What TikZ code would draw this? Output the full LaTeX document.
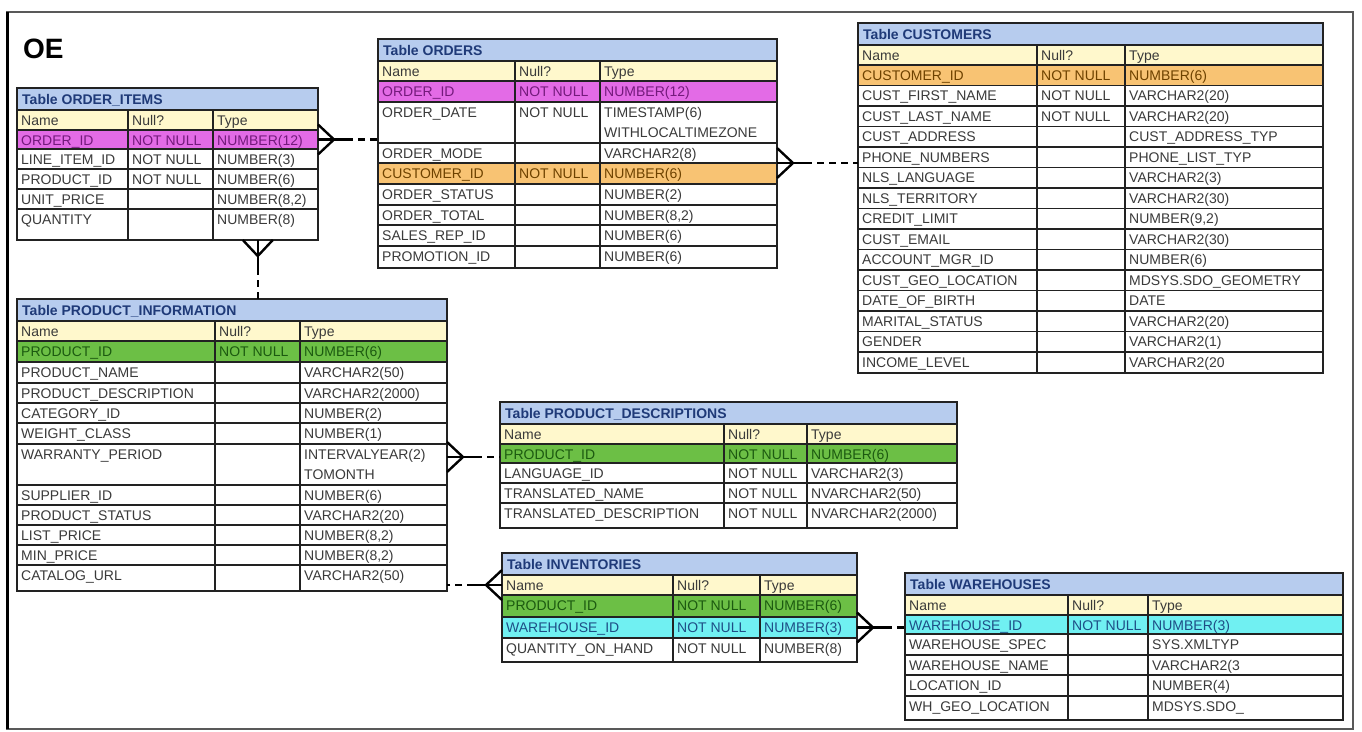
\documentclass[tikz,border=0pt]{standalone}
\usepackage{fontspec}
\setmainfont{Liberation Sans}
\usepackage{tikz}
\usetikzlibrary{calc}
\definecolor{headfill}{HTML}{B7CCEE}
\definecolor{headink}{HTML}{1F3A78}
\definecolor{namefill}{HTML}{FFF8CC}
\definecolor{cellink}{HTML}{3A3A3A}
\definecolor{magfill}{HTML}{E36BE6}
\definecolor{magink}{HTML}{741A7C}
\definecolor{orgfill}{HTML}{F8C373}
\definecolor{orgink}{HTML}{6E4200}
\definecolor{grnfill}{HTML}{6CBF45}
\definecolor{grnink}{HTML}{1C5A10}
\definecolor{cyanfill}{HTML}{70F0F2}
\definecolor{cyanink}{HTML}{1E4E86}
\definecolor{ruleink}{HTML}{222222}
\newcommand{\cellfont}{\fontsize{14}{20}\selectfont}
\newcommand{\headfont}{\fontsize{14}{20}\selectfont\bfseries}
% column edges of the table being drawn
\newcommand{\dbcols}[4]{\def\cola{#1}\def\colb{#2}\def\colc{#3}\def\cold{#4}}
\newcommand{\dbrow}[7]{%
  \node[rowbox, #4, minimum width={(\cold-\cola)*1pt},
        minimum height={(#3-#2)*1pt}] (#1) at ({(\cola+\cold)/2},{(#2+#3)/2}) {};
  \draw[rowrule] (#1.north west) -- (#1.north east);
  \node[cell, #4] at ({\cola+4},{#2+15}) {#5};
  \node[cell, #4] at ({\colb+4},{#2+15}) {#6};
  \node[cell, #4] at ({\colc+4},{#2+15}) {#7};
}
\newcommand{\dbmore}[2]{%
  \node[cell] at ({\colc+4},{#1+15}) {#2};
}
\newcommand{\dbtable}[4]{%
  \node[headbox, minimum width={(\cold-\cola)*1pt}, minimum height=22pt]
    (#1-head) at ({(\cola+\cold)/2},{#2+11}) {};
  \node[headtext] at ({\cola+5},{#2+16}) {Table #4};
  \node[namebox, minimum width={(\cold-\cola)*1pt}, minimum height=20pt]
    (#1-cols) at ({(\cola+\cold)/2},{#2+32}) {};
  \node[cell] at ({\cola+4},{#2+37}) {Name};
  \node[cell] at ({\colb+4},{#2+37}) {Null?};
  \node[cell] at ({\colc+4},{#2+37}) {Type};
  \draw[rowrule] (#1-cols.north west) -- (#1-cols.north east);
  \draw[rowrule] (#1-cols.south west) -- (#1-cols.south east);
  \draw[colrule] ({\colb},{#2+22}) -- ({\colb},{#3});
  \draw[colrule] ({\colc},{#2+22}) -- ({\colc},{#3});
  \node[tablebox, minimum width={(\cold-\cola)*1pt},
        minimum height={(#3-#2)*1pt}] (#1) at ({(\cola+\cold)/2},{(#2+#3)/2}) {};
}
% crow's foot at #1, dashed on to #2
\newcommand{\crowlink}[2]{%
  \draw[crowline] ($(#1)!15pt!90:(#2)$) -- ($(#1)!16pt!(#2)$) -- ($(#1)!15pt!-90:(#2)$);
  \draw[crowline] (#1) -- ($(#1)!28pt!(#2)$);
  \draw[crowline, linkdash] ($(#1)!28pt!(#2)$) -- (#2);
}

\begin{document}
\begin{tikzpicture}[x=1pt, y=-1pt,
    rowbox/.style={inner sep=0pt, outer sep=0pt, draw=none},
    headbox/.style={rowbox, fill=headfill},
    namebox/.style={rowbox, fill=namefill},
    tablebox/.style={draw=ruleink, line width=2.4pt, inner sep=0pt, outer sep=0pt},
    rowrule/.style={draw=ruleink, line width=1.3pt},
    colrule/.style={draw=ruleink, line width=2.4pt},
    cell/.style={anchor=base west, inner sep=0pt, font=\cellfont, text=cellink},
    headtext/.style={anchor=base west, inner sep=0pt, font=\headfont, text=headink},
    hlnone/.style={},
    hlmag/.style={fill=magfill, text=magink},
    hlorg/.style={fill=orgfill, text=orgink},
    hlgrn/.style={fill=grnfill, text=grnink},
    hlcyan/.style={fill=cyanfill, text=cyanink},
    crowline/.style={draw=black, line width=2.4pt},
    linkdash/.style={dash pattern=on 7pt off 5pt}]
  \fill[white] (0,0) rectangle (1362,731);
  \useasboundingbox (0,0) rectangle (1362,731);
  \draw[gray!70!black, line width=1.5pt] (7,12) rectangle (1353,729);
  \draw[black, line width=3pt] (7,12) -- (7,729);
  \node[anchor=base west, inner sep=0pt, font=\fontsize{28}{28}\selectfont\bfseries]
    (oe) at (23,58) {OE};

  % ORDER_ITEMS
  \dbcols{17}{128}{213}{318}
  \dbrow{oi-order}{130}{149}{hlmag}{ORDER\_ID}{NOT NULL}{NUMBER(12)}
  \dbrow{oi-line}{149}{169}{hlnone}{LINE\_ITEM\_ID}{NOT NULL}{NUMBER(3)}
  \dbrow{oi-prod}{169}{189}{hlnone}{PRODUCT\_ID}{NOT NULL}{NUMBER(6)}
  \dbrow{oi-price}{189}{209}{hlnone}{UNIT\_PRICE}{}{NUMBER(8,2)}
  \dbrow{oi-qty}{209}{240}{hlnone}{QUANTITY}{}{NUMBER(8)}
  \dbtable{oitems}{88}{240}{ORDER\_ITEMS}

  % ORDERS
  \dbcols{378}{515}{600}{777}
  \dbrow{ord-id}{81}{102}{hlmag}{ORDER\_ID}{NOT NULL}{NUMBER(12)}
  \dbrow{ord-date}{102}{143}{hlnone}{ORDER\_DATE}{NOT NULL}{TIMESTAMP(6)}
  \dbmore{122}{WITHLOCALTIMEZONE}
  \dbrow{ord-mode}{143}{163}{hlnone}{ORDER\_MODE}{}{VARCHAR2(8)}
  \dbrow{ord-cust}{163}{184}{hlorg}{CUSTOMER\_ID}{NOT NULL}{NUMBER(6)}
  \dbrow{ord-status}{184}{205}{hlnone}{ORDER\_STATUS}{}{NUMBER(2)}
  \dbrow{ord-total}{205}{225}{hlnone}{ORDER\_TOTAL}{}{NUMBER(8,2)}
  \dbrow{ord-rep}{225}{246}{hlnone}{SALES\_REP\_ID}{}{NUMBER(6)}
  \dbrow{ord-promo}{246}{268}{hlnone}{PROMOTION\_ID}{}{NUMBER(6)}
  \dbtable{orders}{39}{268}{ORDERS}

  % CUSTOMERS
  \dbcols{858}{1037}{1125}{1323}
  \dbrow{cust-id}{65}{85.5}{hlorg}{CUSTOMER\_ID}{NOT NULL}{NUMBER(6)}
  \dbrow{cust-first}{85.5}{106}{hlnone}{CUST\_FIRST\_NAME}{NOT NULL}{VARCHAR2(20)}
  \dbrow{cust-last}{106}{126.5}{hlnone}{CUST\_LAST\_NAME}{NOT NULL}{VARCHAR2(20)}
  \dbrow{cust-addr}{126.5}{147}{hlnone}{CUST\_ADDRESS}{}{CUST\_ADDRESS\_TYP}
  \dbrow{cust-phone}{147}{167.5}{hlnone}{PHONE\_NUMBERS}{}{PHONE\_LIST\_TYP}
  \dbrow{cust-lang}{167.5}{188}{hlnone}{NLS\_LANGUAGE}{}{VARCHAR2(3)}
  \dbrow{cust-terr}{188}{208.5}{hlnone}{NLS\_TERRITORY}{}{VARCHAR2(30)}
  \dbrow{cust-credit}{208.5}{229}{hlnone}{CREDIT\_LIMIT}{}{NUMBER(9,2)}
  \dbrow{cust-email}{229}{249.5}{hlnone}{CUST\_EMAIL}{}{VARCHAR2(30)}
  \dbrow{cust-mgr}{249.5}{270}{hlnone}{ACCOUNT\_MGR\_ID}{}{NUMBER(6)}
  \dbrow{cust-geo}{270}{290.5}{hlnone}{CUST\_GEO\_LOCATION}{}{MDSYS.SDO\_GEOMETRY}
  \dbrow{cust-birth}{290.5}{311}{hlnone}{DATE\_OF\_BIRTH}{}{DATE}
  \dbrow{cust-marital}{311}{331.5}{hlnone}{MARITAL\_STATUS}{}{VARCHAR2(20)}
  \dbrow{cust-gender}{331.5}{352}{hlnone}{GENDER}{}{VARCHAR2(1)}
  \dbrow{cust-income}{352}{373}{hlnone}{INCOME\_LEVEL}{}{VARCHAR2(20}
  \dbtable{cust}{23}{373}{CUSTOMERS}

  % PRODUCT_INFORMATION
  \dbcols{17}{215}{300}{447}
  \dbrow{pi-prod}{341}{362}{hlgrn}{PRODUCT\_ID}{NOT NULL}{NUMBER(6)}
  \dbrow{pi-name}{362}{383}{hlnone}{PRODUCT\_NAME}{}{VARCHAR2(50)}
  \dbrow{pi-desc}{383}{403}{hlnone}{PRODUCT\_DESCRIPTION}{}{VARCHAR2(2000)}
  \dbrow{pi-cat}{403}{423}{hlnone}{CATEGORY\_ID}{}{NUMBER(2)}
  \dbrow{pi-weight}{423}{444}{hlnone}{WEIGHT\_CLASS}{}{NUMBER(1)}
  \dbrow{pi-warr}{444}{485}{hlnone}{WARRANTY\_PERIOD}{}{INTERVALYEAR(2)}
  \dbmore{464}{TOMONTH}
  \dbrow{pi-supp}{485}{505}{hlnone}{SUPPLIER\_ID}{}{NUMBER(6)}
  \dbrow{pi-status}{505}{525}{hlnone}{PRODUCT\_STATUS}{}{VARCHAR2(20)}
  \dbrow{pi-list}{525}{545}{hlnone}{LIST\_PRICE}{}{NUMBER(8,2)}
  \dbrow{pi-min}{545}{565}{hlnone}{MIN\_PRICE}{}{NUMBER(8,2)}
  \dbrow{pi-url}{565}{591}{hlnone}{CATALOG\_URL}{}{VARCHAR2(50)}
  \dbtable{pinfo}{299}{591}{PRODUCT\_INFORMATION}

  % PRODUCT_DESCRIPTIONS
  \dbcols{500}{724}{807}{957}
  \dbrow{pd-prod}{444}{463}{hlgrn}{PRODUCT\_ID}{NOT NULL}{NUMBER(6)}
  \dbrow{pd-lang}{463}{483}{hlnone}{LANGUAGE\_ID}{NOT NULL}{VARCHAR2(3)}
  \dbrow{pd-name}{483}{503}{hlnone}{TRANSLATED\_NAME}{NOT NULL}{NVARCHAR2(50)}
  \dbrow{pd-desc}{503}{528}{hlnone}{TRANSLATED\_DESCRIPTION}{NOT NULL}{NVARCHAR2(2000)}
  \dbtable{pdesc}{402}{528}{PRODUCT\_DESCRIPTIONS}

  % INVENTORIES
  \dbcols{502}{673}{760}{857}
  \dbrow{inv-prod}{595}{617}{hlgrn}{PRODUCT\_ID}{NOT NULL}{NUMBER(6)}
  \dbrow{inv-wh}{617}{638}{hlcyan}{WAREHOUSE\_ID}{NOT NULL}{NUMBER(3)}
  \dbrow{inv-qty}{638}{662}{hlnone}{QUANTITY\_ON\_HAND}{NOT NULL}{NUMBER(8)}
  \dbtable{inv}{553}{662}{INVENTORIES}

  % WAREHOUSES
  \dbcols{905}{1068}{1148}{1343}
  \dbrow{wh-id}{615}{634}{hlcyan}{WAREHOUSE\_ID}{NOT NULL}{NUMBER(3)}
  \dbrow{wh-spec}{634}{655}{hlnone}{WAREHOUSE\_SPEC}{}{SYS.XMLTYP}
  \dbrow{wh-name}{655}{675}{hlnone}{WAREHOUSE\_NAME}{}{VARCHAR2(3}
  \dbrow{wh-loc}{675}{696}{hlnone}{LOCATION\_ID}{}{NUMBER(4)}
  \dbrow{wh-geo}{696}{720}{hlnone}{WH\_GEO\_LOCATION}{}{MDSYS.SDO\_}
  \dbtable{wh}{573}{720}{WAREHOUSES}

  % links
  \coordinate (ord-in) at (oi-order.east -| orders.west);
  \coordinate (oi-foot) at ($(oitems.south west)!0.8!(oitems.south east)$);
  \coordinate (pi-top) at (oi-foot |- pinfo.north);
  \coordinate (cust-in) at (ord-cust.north east -| cust.west);
  \coordinate (pi-out) at ($(pi-warr.north east)+(0,13)$);
  \coordinate (pd-in) at (pi-out -| pdesc.west);
  \coordinate (pi-side) at (inv-cols.west -| pinfo.east);
  \coordinate (wh-in) at (inv-wh.east -| wh.west);
  \crowlink{oi-order.east}{ord-in}
  \crowlink{oi-foot}{pi-top}
  \crowlink{ord-cust.north east}{cust-in}
  \crowlink{pi-out}{pd-in}
  \crowlink{inv-cols.west}{pi-side}
  \crowlink{inv-wh.east}{wh-in}
\end{tikzpicture}
\end{document}
